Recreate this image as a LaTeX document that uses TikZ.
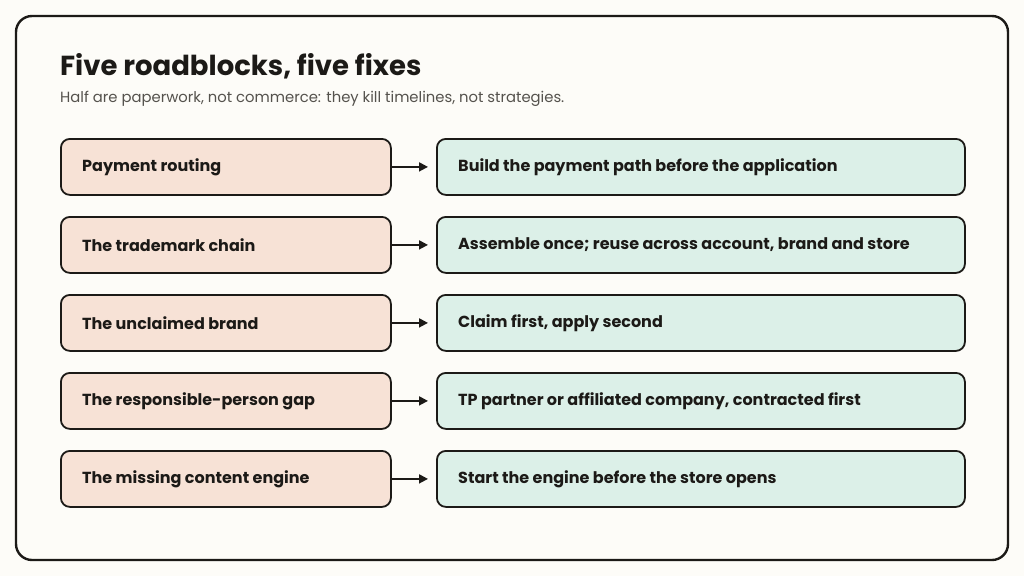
\documentclass[tikz,border=0pt]{standalone}
\usepackage{fontspec}
\setmainfont{Poppins}
\usetikzlibrary{arrows.meta}
\definecolor{bg}{HTML}{FDFCF8}
\definecolor{ink}{HTML}{1C1A17}
\definecolor{prob}{HTML}{F7E2D6}
\definecolor{fix}{HTML}{DCF0E8}
\definecolor{sub}{HTML}{55524D}
\begin{document}
\begin{tikzpicture}[x=1pt,y=-1pt,
  box/.style={draw=ink,line width=1.8pt,rounded corners=9pt,anchor=north west,minimum height=56pt,inner sep=0pt},
  pbox/.style={box,fill=prob,minimum width=330pt},
  fbox/.style={box,fill=fix,minimum width=528pt},
  lbl/.style={anchor=west,font=\fontsize{16}{19}\selectfont\bfseries,text=ink},
  arr/.style={draw=ink,line width=1.8pt,-{Triangle[length=9pt,width=9pt]}}]
\useasboundingbox (0,0) rectangle (1024,576);
\fill[bg] (0,0) rectangle (1024,576);
\draw[ink,line width=2.4pt,rounded corners=16pt,fill=bg] (16,16) rectangle (1008,560);
\node[anchor=west,font=\fontsize{27.5}{32}\selectfont\bfseries,text=ink,inner sep=0] (t) at (60,66) {Five roadblocks, five fixes};
\node[anchor=west,font=\fontsize{14.8}{18}\selectfont,text=sub,inner sep=0] (s) at (60,99) {Half are paperwork, not commerce: they kill timelines, not strategies.};
\foreach \i/\y/\a/\b in {1/138/Payment routing/Build the payment path before the application,
 2/216/The trademark chain/{Assemble once; reuse across account, brand and store},
 3/294/The unclaimed brand/{Claim first, apply second},
 4/372/The responsible-person gap/{TP partner or affiliated company, contracted first},
 5/450/The missing content engine/Start the engine before the store opens}{
  \node[pbox] (p\i) at (60,\y) {};
  \node[fbox] (f\i) at (436,\y) {};
  \node[lbl,inner sep=0] (pl\i) at ([xshift=22pt]p\i.west) {\a};
  \node[lbl,inner sep=0] (fl\i) at ([xshift=22pt]f\i.west) {\b};
  \draw[arr] (p\i.east) -- ([xshift=-8pt]f\i.west);
}
\end{tikzpicture}
\end{document}
